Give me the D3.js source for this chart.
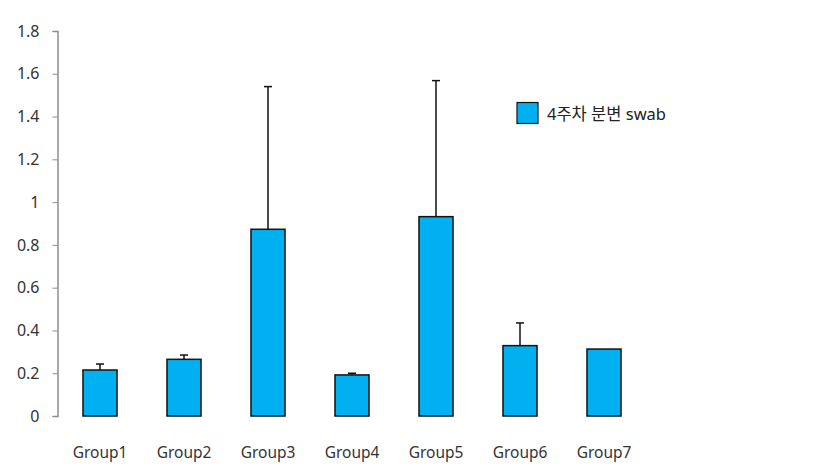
<!DOCTYPE html>
<html><head><meta charset="utf-8">
<script src="https://cdn.jsdelivr.net/npm/d3@7"></script>
<style>body{margin:0;background:#fff}text{font-family:"Noto Sans","Noto Sans CJK KR",sans-serif}</style>
</head><body><svg id="c" width="813" height="473"></svg>
<script>
const categories=["Group1","Group2","Group3","Group4","Group5","Group6","Group7"];
const values=[0.215,0.265,0.873,0.192,0.932,0.329,0.313];
const errors=[0.028,0.02,0.667,0.008,0.636,0.106,0];
const yTicks=[0,0.2,0.4,0.6,0.8,1,1.2,1.4,1.6,1.8];
const seriesName="4주차 분변 swab";

const svg=d3.select("#c");
const x=d3.scaleBand().domain(categories).range([58,646]).paddingInner(0.595).paddingOuter(0.2975);
const y=d3.scaleLinear().domain([0,1.8]).range([416,31]);

const ya=svg.append("g").attr("transform","translate(57.5,0)")
 .call(d3.axisLeft(y).tickValues(yTicks).tickSize(5).tickFormat(d=>String(d)));
ya.select(".domain").attr("stroke","#8c8c8c").attr("stroke-width",1.5);
ya.selectAll(".tick line").attr("stroke","#8c8c8c");
ya.selectAll(".tick text").attr("font-size",16).attr("fill","#333").attr("x",-18);

const xa=svg.append("g").attr("transform","translate(0,416)")
 .call(d3.axisBottom(x).tickSize(0));
xa.select(".domain").remove();
xa.selectAll(".tick text").attr("font-size",15.5).attr("fill","#333").attr("dy",0).attr("y",42);

const g=svg.append("g");
categories.forEach((c,i)=>{
  const cx=x(c)+x.bandwidth()/2;
  if(errors[i]>0){
    g.append("line").attr("x1",cx).attr("x2",cx).attr("y1",y(values[i])).attr("y2",y(values[i]+errors[i])).attr("stroke","#111").attr("stroke-width",1.5);
    g.append("line").attr("x1",cx-4).attr("x2",cx+4).attr("y1",y(values[i]+errors[i])).attr("y2",y(values[i]+errors[i])).attr("stroke","#111").attr("stroke-width",1.5);
  }
  g.append("rect").attr("x",x(c)).attr("width",x.bandwidth()).attr("y",y(values[i])).attr("height",y(0)-y(values[i]))
   .attr("fill","#00b0f0").attr("stroke","#111").attr("stroke-width",1.5);
});

const lg=svg.append("g");
lg.append("rect").attr("x",517).attr("y",102.5).attr("width",21).attr("height",21).attr("fill","#00b0f0").attr("stroke","#111").attr("stroke-width",1.2);
lg.append("text").attr("x",547).attr("y",119.5).attr("font-size",16.5).attr("fill","#222").text(seriesName);
</script></body></html>
